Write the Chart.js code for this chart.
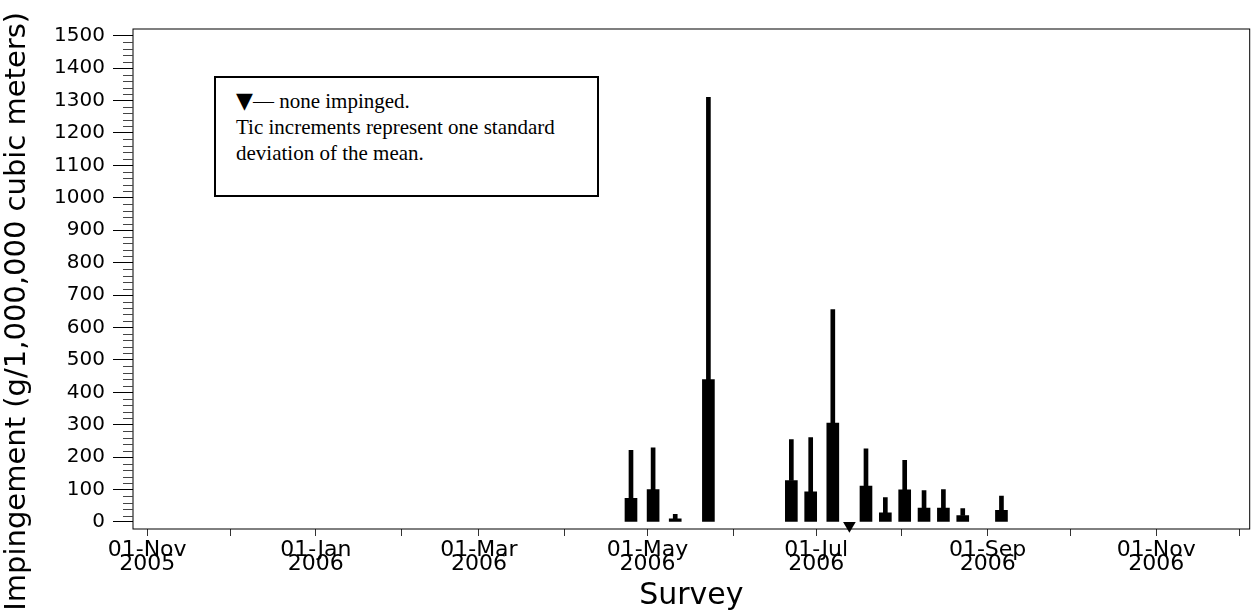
<!DOCTYPE html>
<html>
<head>
<meta charset="utf-8">
<title>Impingement by survey</title>
<script src="https://cdn.jsdelivr.net/npm/chart.js@4.4.1/dist/chart.umd.min.js"></script>
<style>
  body { margin: 0; background: #fff; }
  #wrap { position: relative; width: 1257px; height: 614px; }
  #note {
    position: absolute; left: 214px; top: 76px; width: 385px; height: 121px;
    box-sizing: border-box; border: 2px solid #000; background: #fff;
    padding: 10px 0 0 20px;
    font-family: "Liberation Serif", "Times New Roman", serif;
    font-size: 21px; line-height: 26px; color: #000; white-space: nowrap;
  }
  #note .tri { font-family: "DejaVu Sans", sans-serif; font-size: 22px; line-height: 20px; }
</style>
</head>
<body>
<div id="wrap">
  <canvas id="chart" width="1257" height="614"></canvas>
  <div id="note"><span class="tri">▼</span>— none impinged.<br>Tic increments represent one standard<br>deviation of the mean.</div>
</div>
<script>
// survey dates and values
const surveyDates = ["2006-04-25", "2006-05-03", "2006-05-11", "2006-05-23", "2006-06-22", "2006-06-29", "2006-07-07",
  "2006-07-19", "2006-07-26", "2006-08-02", "2006-08-09", "2006-08-16", "2006-08-23", "2006-09-06"];
const meanValues = [73, 100, 10, 439, 128, 93, 305, 111, 28, 99, 43, 43, 20, 36];
const sdTops = [221, 229, 24, 1310, 254, 260, 655, 226, 75, 190, 97, 100, 41, 80];
const noneDates = ["2006-07-13"];

// axis ticks
const tickDates = ["2005-11-01", "2005-12-01", "2006-01-01", "2006-02-01", "2006-03-01", "2006-04-01", "2006-05-01",
  "2006-06-01", "2006-07-01", "2006-08-01", "2006-09-01", "2006-10-01", "2006-11-01", "2006-12-01"];
const tickLabels = [["01-Nov", "2005"], "", ["01-Jan", "2006"], "", ["01-Mar", "2006"], "", ["01-May", "2006"],
  "", ["01-Jul", "2006"], "", ["01-Sep", "2006"], "", ["01-Nov", "2006"], ""];
const yTicks = [0, 100, 200, 300, 400, 500, 600, 700, 800, 900, 1000, 1100, 1200, 1300, 1400, 1500];

const toTime = (d) => Date.parse(d);
const markerY = -11; // triangle sits just under the zero line

// frame box and the small y tics between the labelled ones
const framePlugin = {
  id: "frame",
  beforeDatasetsDraw(chart) {
    const { ctx, chartArea: a, scales } = chart;
    ctx.save();
    ctx.strokeStyle = "#000";
    ctx.lineWidth = 1;
    ctx.strokeRect(a.left, a.top, a.right - a.left, a.bottom - a.top);
    ctx.beginPath();
    for (let v = 20; v < 1500; v += 20) {
      if (v % 100 === 0) continue;
      const py = Math.round(scales.y.getPixelForValue(v)) + 0.5;
      ctx.moveTo(a.left - 10, py);
      ctx.lineTo(a.left, py);
    }
    ctx.strokeStyle = "#444";
    ctx.stroke();
    ctx.restore();
  }
};

const ctx = document.getElementById("chart").getContext("2d");
new Chart(ctx, {
  type: "bar",
  data: {
    datasets: [
      {
        label: "Mean",
        data: surveyDates.map((d, i) => ({ x: toTime(d), y: meanValues[i] })),
        backgroundColor: "#000",
        barThickness: 12,
        grouped: false
      },
      {
        label: "Mean + 1 SD",
        data: surveyDates.map((d, i) => ({ x: toTime(d), y: [meanValues[i], sdTops[i]] })),
        backgroundColor: "#000",
        barThickness: 4,
        grouped: false
      },
      {
        type: "scatter",
        label: "None impinged",
        data: noneDates.map((d) => ({ x: toTime(d), y: markerY })),
        pointStyle: "triangle",
        rotation: 180,
        pointRadius: 7.3,
        backgroundColor: "#000",
        borderWidth: 0,
        clip: false
      }
    ]
  },
  options: {
    responsive: false,
    devicePixelRatio: 1,
    animation: false,
    layout: { padding: { top: 29, right: 2.5, left: 0, bottom: 0 } },
    plugins: { legend: { display: false }, tooltip: { enabled: false } },
    scales: {
      x: {
        type: "linear",
        min: Date.UTC(2005, 9, 26, 21),
        max: Date.UTC(2006, 11, 4, 19),
        offset: false,
        afterBuildTicks: (s) => { s.ticks = tickDates.map((d) => ({ value: toTime(d) })); },
        afterFit: (s) => { s.height = 85; },
        ticks: {
          autoSkip: false,
          maxRotation: 0,
          minRotation: 0,
          padding: 7,
          color: "#000",
          font: { family: "DejaVu Sans", size: 22, lineHeight: 0.65 },
          callback: (v, i) => tickLabels[i]
        },
        grid: { offset: false, drawOnChartArea: false, tickLength: 7, color: "#333" },
        border: { display: false },
        title: {
          display: true,
          text: "Survey",
          color: "#000",
          font: { family: "DejaVu Sans", size: 30 },
          padding: { top: 0, bottom: 0 }
        }
      },
      y: {
        min: -21.6,
        max: 1520.5,
        afterBuildTicks: (s) => { s.ticks = yTicks.map((v) => ({ value: v })); },
        afterFit: (s) => { s.width = 133; },
        ticks: {
          padding: 8,
          color: "#000",
          font: { family: "DejaVu Sans", size: 20 },
          callback: (v) => String(v)
        },
        grid: { drawOnChartArea: false, tickLength: 20, color: "#000" },
        border: { display: false },
        title: {
          display: true,
          text: "Impingement (g/1,000,000 cubic meters)" + "\u00a0".repeat(7),
          color: "#000",
          font: { family: "DejaVu Sans", size: 29 },
          padding: { top: 0, bottom: 0 }
        }
      }
    }
  },
  plugins: [framePlugin]
});
</script>
</body>
</html>
